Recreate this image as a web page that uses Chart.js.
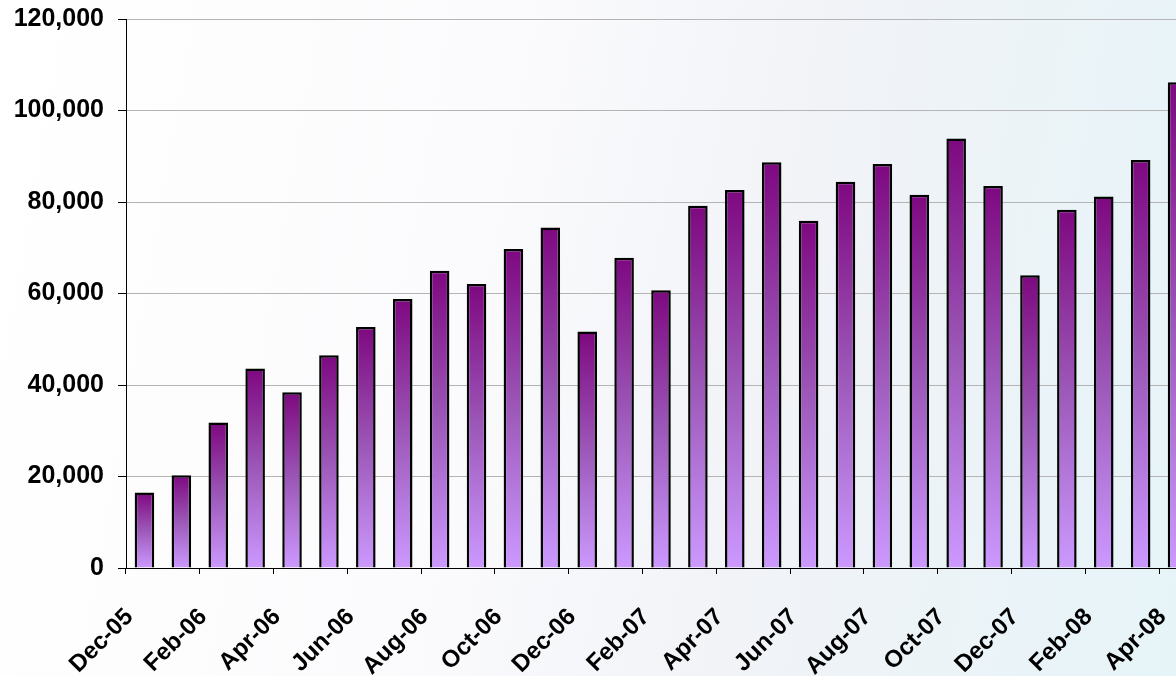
<!DOCTYPE html>
<html>
<head>
<meta charset="utf-8">
<title>Monthly volume</title>
<script src="https://cdn.jsdelivr.net/npm/chart.js@4.4.1/dist/chart.umd.min.js"></script>
<style>
  html, body {
    margin: 0;
    padding: 0;
    overflow: hidden;
    width: 1176px;
    height: 676px;
    background: linear-gradient(100deg, #ffffff 0%, #fbfbfd 40%, #f1f3f7 65%, #e6f4f8 100%);
  }
  canvas { display: block; }
</style>
</head>
<body>
<canvas id="chart" width="1200" height="676"></canvas>
<script>
const months = [
  'Dec-05', 'Jan-06', 'Feb-06', 'Mar-06', 'Apr-06', 'May-06', 'Jun-06', 'Jul-06',
  'Aug-06', 'Sep-06', 'Oct-06', 'Nov-06', 'Dec-06', 'Jan-07', 'Feb-07', 'Mar-07',
  'Apr-07', 'May-07', 'Jun-07', 'Jul-07', 'Aug-07', 'Sep-07', 'Oct-07', 'Nov-07',
  'Dec-07', 'Jan-08', 'Feb-08', 'Mar-08', 'Apr-08'
];
const volumes = [
  16500, 20300, 31800, 43600, 38400, 46500, 52700, 58800,
  65000, 62100, 69700, 74400, 51700, 67800, 60700, 79200,
  82600, 88700, 75900, 84400, 88300, 81600, 93900, 83500,
  64000, 78300, 81200, 89200, 106200
];
const yTicks = [0, 20000, 40000, 60000, 80000, 100000, 120000];

// each bar gets its own dark-to-light gradient, like the Excel fill
function barFill(ctx) {
  const chart = ctx.chart;
  if (!chart.chartArea || ctx.parsed === undefined) return '#a060c0';
  const y = chart.scales.y;
  const top = y.getPixelForValue(ctx.parsed.y);
  const bottom = y.getPixelForValue(0);
  const g = chart.ctx.createLinearGradient(0, top, 0, bottom);
  g.addColorStop(0, '#7e0880');
  g.addColorStop(0.5, '#9c58b8');
  g.addColorStop(1, '#cc99ff');
  return g;
}

const family = '"Liberation Sans", Arial, sans-serif';

new Chart(document.getElementById('chart').getContext('2d'), {
  type: 'bar',
  data: {
    labels: months,
    datasets: [{
      data: volumes,
      backgroundColor: barFill,
      borderColor: '#000000',
      borderWidth: 2.5,
      borderSkipped: 'bottom',
      categoryPercentage: 1,
      barPercentage: 0.53
    }]
  },
  options: {
    responsive: false,
    devicePixelRatio: 1,
    animation: false,
    layout: { padding: { left: 0, right: 4, top: 19, bottom: 0 } },
    plugins: {
      legend: { display: false },
      tooltip: { enabled: false }
    },
    scales: {
      x: {
        offset: true,
        afterFit: (scale) => {
          scale.height = 108;
          scale.paddingLeft = 0;
          scale.paddingRight = 0;
        },
        grid: {
          offset: true,
          drawOnChartArea: false,
          tickLength: 6,
          color: (c) => c.index % 2 === 0 ? '#000000' : 'rgba(0,0,0,0)',
          tickColor: (c) => c.index % 2 === 0 ? '#000000' : 'rgba(0,0,0,0)'
        },
        border: { color: '#000000', width: 1 },
        ticks: {
          autoSkip: false,
          maxRotation: 45,
          minRotation: 45,
          padding: 29,
          labelOffset: -15,
          color: '#000000',
          font: { family: family, size: 24, weight: 'bold' },
          callback: (v, i) => i % 2 === 0 ? months[i] : ''
        }
      },
      y: {
        min: 0,
        max: 120000,
        afterFit: (scale) => {
          scale.width = 126;
          scale.paddingTop = 0;
          scale.paddingBottom = 0;
        },
        afterBuildTicks: (scale) => { scale.ticks = yTicks.map(v => ({ value: v })); },
        grid: {
          color: '#b4b4b4',
          lineWidth: 1,
          tickLength: 8,
          tickColor: '#000000'
        },
        border: { color: '#000000', width: 1 },
        ticks: {
          padding: 14,
          color: '#000000',
          font: { family: family, size: 25, weight: 'bold' },
          callback: (v) => v.toLocaleString('en-US')
        }
      }
    }
  }
});
</script>
</body>
</html>
